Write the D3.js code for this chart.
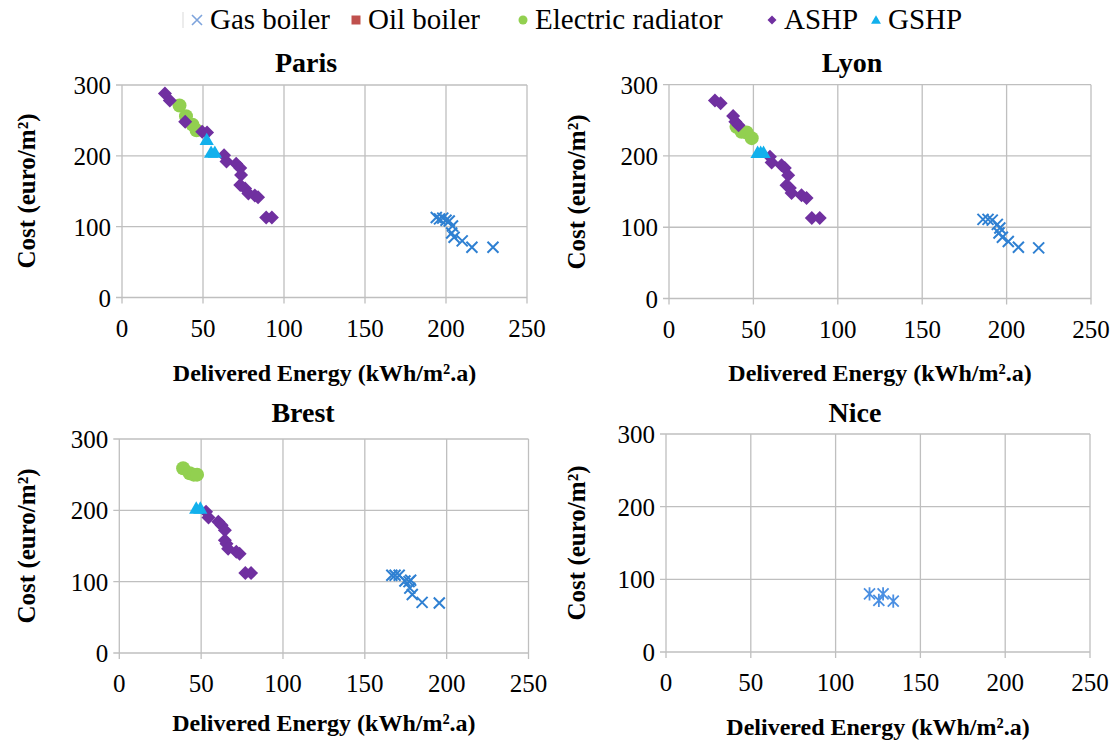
<!DOCTYPE html>
<html>
<head>
<meta charset="utf-8">
<script src="https://cdn.jsdelivr.net/npm/d3@7"></script>
<style>
  html, body { margin: 0; padding: 0; background: #fff; }
  #wrap { position: relative; width: 1119px; height: 744px; overflow: hidden; }
  #chart { position: absolute; left: 0; top: 0; }
  .lbl { position: absolute; white-space: nowrap; color: #000; }
</style>
</head>
<body>
<div id="wrap" style="font-family:'Liberation Serif'"><svg id="chart" width="1119" height="744"></svg></div>
<script>
// ---------- DATA ----------
const categories = ["Gas boiler", "Oil boiler", "Electric radiator", "ASHP", "GSHP"];
const cities = ["Paris", "Lyon", "Brest", "Nice"];
const xTicks = [0, 50, 100, 150, 200, 250];
const yTicks = [0, 100, 200, 300];
const xTitle = "Delivered Energy (kWh/m².a)";
const yTitle = "Cost (euro/m²)";

// [delivered energy, cost]
const parisGas = [[194,113],[196,111],[198,112],[200,109],[202,108],[204,101],[203.5,91],[205,85],[210,80],[216,71],[229,71]];
const parisOil = [];
const parisElectric = [[35.5,271],[39.5,256],[43.5,244],[46,236]];
const parisASHP = [[26.5,288],[29.5,278],[39,248],[49.5,234],[52.5,233],[63,201],[64.5,192],[70.5,189],[73,183],[73.5,173],[73,159],[76,154],[78,147],[82,144],[84,141.5],[89,113],[92.5,113]];
const parisGSHP = [[52.3,223],[55,205],[57.3,205]];

const lyonGas = [[186,111],[189,111],[191.5,110],[194.5,104],[196,99],[195.5,92],[197.5,86],[201,80],[207,72],[219,71]];
const lyonOil = [];
const lyonElectric = [[40,241],[43,234],[46,233],[49,225]];
const lyonASHP = [[27.2,278],[30.6,274],[38,256],[39.3,248],[41.2,243],[59.8,199],[60.8,191],[66.7,187],[68.6,183],[70.6,173],[69.6,159],[71.6,155],[72.6,148],[78.5,145],[81.5,141],[84.6,113],[89.3,113]];
const lyonGSHP = [[52.5,205],[54.3,205],[56,205]];

const brestGas = [[166.5,109],[168.5,109],[171,109],[174.5,101],[177,100],[178,102],[177.5,91],[179,82],[185,71],[195.5,70]];
const brestOil = [];
const brestElectric = [[39,259],[43,252],[45.5,250],[47.5,250]];
const brestASHP = [[53,198],[54.5,190],[60.5,184],[62.5,179],[64.5,172],[64.5,158],[65.5,153],[66.5,146],[71.5,142],[73.5,139],[77,112],[80.5,112]];
const brestGSHP = [[47,203],[49.5,203]];

const niceGas = [[120,80],[125.5,71],[128,80],[134,70]];
const niceOil = [];
const niceElectric = [];
const niceASHP = [];
const niceGSHP = [];

const cityData = {
  Paris: [parisGas, parisOil, parisElectric, parisASHP, parisGSHP],
  Lyon:  [lyonGas, lyonOil, lyonElectric, lyonASHP, lyonGSHP],
  Brest: [brestGas, brestOil, brestElectric, brestASHP, brestGSHP],
  Nice:  [niceGas, niceOil, niceElectric, niceASHP, niceGSHP]
};

// ---------- LAYOUT / STYLE ----------
const layout = {
  Paris: { x0: 122, x1: 527, yb: 297.5, yt: 85, tx: 306, ty: 72, ytx: 26, xty: 381 },
  Lyon:  { x0: 669, x1: 1091, yb: 298.5, yt: 84.7, tx: 852, ty: 72, ytx: 576, xty: 381 },
  Brest: { x0: 119.3, x1: 528.5, yb: 653, yt: 439, tx: 303, ty: 422, ytx: 26, xty: 731 },
  Nice:  { x0: 666, x1: 1090, yb: 652, yt: 434, tx: 855, ty: 422, ytx: 576, xty: 735 }
};
const colors = ["#2f80d2", "#c0504d", "#92d050", "#7030a0", "#12b0ec"];
const gridColor = "#bfbfbf";

const svg = d3.select("#chart");
const wrap = d3.select("#wrap");

function serif(sel) {
  sel.each(function () { this.style.setProperty("font-family", "'Liberation Serif'", "important"); });
  return sel;
}
// HTML text placed with its baseline at (x, y)
function addText(str, x, y, size, anchor = "start", weight = "normal") {
  const shift = anchor === "middle" ? "-50%" : anchor === "end" ? "-100%" : "0";
  const d = wrap.append("div").attr("class", "lbl")
    .style("left", x + "px").style("top", (y - 0.8375 * size) + "px")
    .style("font-size", size + "px").style("line-height", size + "px")
    .style("font-weight", weight)
    .style("transform", `translateX(${shift})`)
    .text(str);
  serif(d);
}
// rotated (-90deg) text centred at (cx, cy)
function addVText(str, cx, cy, size, weight = "bold") {
  const d = wrap.append("div").attr("class", "lbl")
    .style("left", cx + "px").style("top", cy + "px")
    .style("font-size", size + "px").style("line-height", size + "px")
    .style("font-weight", weight)
    .style("transform", "translate(-50%,-50%) rotate(-90deg)")
    .text(str);
  serif(d);
}

function markerPath(type, s) {
  const h = s / 2;
  if (type === "diamond") return `M0,${-h}L${h},0L0,${h}L${-h},0Z`;
  if (type === "square") return `M${-h},${-h}H${h}V${h}H${-h}Z`;
  if (type === "triangle") return `M0,${-h*1.05}L${h*1.1},${h*0.85}L${-h*1.1},${h*0.85}Z`;
  if (type === "cross") return `M${-h},${-h}L${h},${h}M${h},${-h}L${-h},${h}`;
  if (type === "star") return `M${-h},${-h}L${h},${h}M${h},${-h}L${-h},${h}M0,${-h*1.2}V${h*1.2}`;
  return "";
}
const seriesStyle = [
  { type: "cross", size: 11, stroke: true },
  { type: "square", size: 11, stroke: false },
  { type: "circle", size: 14, stroke: false },
  { type: "diamond", size: 14, stroke: false },
  { type: "triangle", size: 13, stroke: false }
];

function drawMarker(g, sIdx, cx, cy, opts = {}) {
  const st = seriesStyle[sIdx];
  const col = opts.color || colors[sIdx];
  const size = opts.size || st.size;
  if (st.type === "circle") {
    g.append("circle").attr("cx", cx).attr("cy", cy).attr("r", size / 2).attr("fill", col);
  } else if (st.stroke) {
    g.append("path").attr("d", markerPath(opts.type || st.type, size))
      .attr("transform", `translate(${cx},${cy})`)
      .attr("fill", "none").attr("stroke", col).attr("stroke-width", opts.sw || 2);
  } else {
    g.append("path").attr("d", markerPath(st.type, size))
      .attr("transform", `translate(${cx},${cy})`).attr("fill", col);
  }
}

cities.forEach(city => {
  const L = layout[city];
  const x = d3.scaleLinear().domain([0, 250]).range([L.x0, L.x1]);
  const y = d3.scaleLinear().domain([0, 300]).range([L.yb, L.yt]);
  const g = svg.append("g");

  // grid
  g.selectAll(".vg").data(xTicks).join("line")
    .attr("x1", d => x(d)).attr("x2", d => x(d)).attr("y1", y(300)).attr("y2", y(0) + 6)
    .attr("stroke", gridColor).attr("stroke-width", 1.3);
  g.selectAll(".hg").data(yTicks).join("line")
    .attr("x1", x(0) - 6).attr("x2", x(250)).attr("y1", d => y(d)).attr("y2", d => y(d))
    .attr("stroke", gridColor).attr("stroke-width", 1.3);

  // tick labels
  xTicks.forEach(d => addText(String(d), x(d), y(0) + 39, 25, "middle"));
  yTicks.forEach(d => addText(String(d), x(0) - 11, y(d) + 9, 25, "end"));

  // titles
  addText(city, L.tx, L.ty, 28, "middle", "bold");
  addText(xTitle, (L.x0 + L.x1) / 2, L.xty, 24, "middle", "bold");
  addVText(yTitle, L.ytx, (L.yb + L.yt) / 2, 25, "bold");

  [0, 1, 2, 3, 4].forEach(sIdx => {
    cityData[city][sIdx].forEach(p => {
      if (city === "Nice" && sIdx === 0) {
        drawMarker(g, sIdx, x(p[0]), y(p[1]), { type: "star", color: "#4a8fe2", size: 11, sw: 1.8 });
      } else {
        drawMarker(g, sIdx, x(p[0]), y(p[1]));
      }
    });
  });
});

// ---------- LEGEND ----------
const legend = svg.append("g");
legend.append("line").attr("x1", 183).attr("x2", 183).attr("y1", 12).attr("y2", 28)
  .attr("stroke", "#d9d9d9").attr("stroke-width", 1);
const legendItems = [
  { mx: 197, tx: 210 },
  { mx: 356, tx: 368 },
  { mx: 523, tx: 535 },
  { mx: 772, tx: 784 },
  { mx: 876, tx: 888 }
];
categories.forEach((c, i) => {
  const it = legendItems[i];
  const col = i === 0 ? "#7ea4dc" : colors[i];
  drawMarker(legend, i, it.mx, 20, { size: i === 0 ? 10 : 9, color: col, sw: 1.6 });
  addText(c, it.tx, 29, 29, "start");
});
</script>
</body>
</html>
